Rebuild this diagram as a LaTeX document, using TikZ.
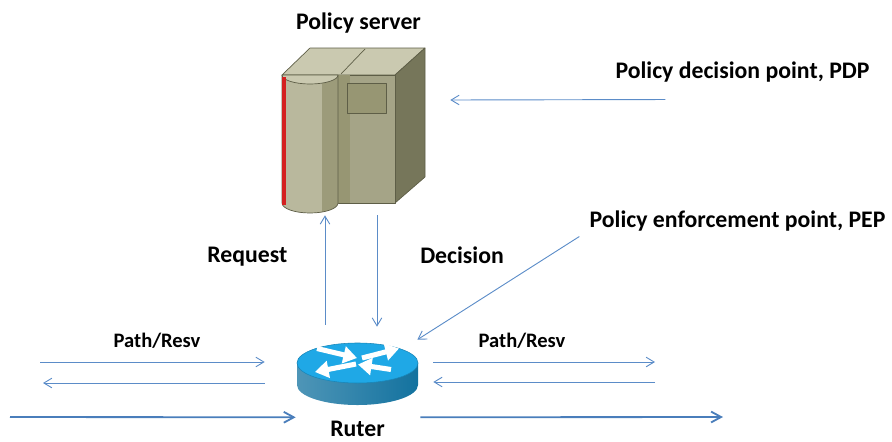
\documentclass[tikz,border=0pt]{standalone}
\usepackage{fontspec}
\setmainfont{Carlito}
\usetikzlibrary{positioning,arrows.meta,calc}
\definecolor{linkblue}{HTML}{5B8CC8}
\definecolor{flowblue}{HTML}{4A7EBB}
\definecolor{srvtop}{HTML}{CAC9B0}
\definecolor{srvfront}{HTML}{A5A487}
\definecolor{srvstrip}{HTML}{979673}
\definecolor{srvside}{HTML}{76765A}
\definecolor{srvcyl}{HTML}{B9B89D}
\definecolor{srvcylshade}{HTML}{9C9B7A}
\definecolor{srvedge}{HTML}{5E5E47}
\definecolor{srvred}{HTML}{D42020}
\definecolor{rtrtop}{HTML}{1FA8E6}
\definecolor{rtrside}{HTML}{13729F}

\begin{document}
\begin{tikzpicture}[x=0.025cm, y=-0.025cm, >={Straight Barb[length=0.2cm,width=0.24cm]},
  lbl/.style={font=\bfseries\fontsize{16.9}{18}\selectfont, inner sep=0pt},
  smalllbl/.style={font=\bfseries\fontsize{14.6}{16}\selectfont, inner sep=0pt},
  link/.style={draw=linkblue, line width=0.65pt},
  flow/.style={draw=flowblue, line width=1.3pt, -{Straight Barb[length=0.25cm,width=0.27cm]}}]
  \useasboundingbox (0,0) rectangle (892,441);

  % policy server
  \begin{scope}[draw=srvedge, line width=0.5pt, line join=round]
    \filldraw[fill=srvtop] (282,75) -- (310,48) -- (425,48) -- (395,75) -- cycle;
    \filldraw[fill=srvside] (395,75) -- (425,48) -- (425,177) -- (395,203) -- cycle;
    \filldraw[fill=srvfront] (338,75) rectangle (395,203);
    \fill[srvstrip] (338.3,75.3) rectangle (350,202.7);
    \filldraw[fill=srvstrip] (347,83) rectangle (386,113);
    \draw (365,49) -- (341,74);
    \begin{scope}
      \clip (282,75) -- (282,203) arc[start angle=180, end angle=0, x radius=28, y radius=10] -- (338,75) -- cycle;
      \fill[srvcyl] (270,60) rectangle (322,230);
      \fill[srvcylshade] (322,60) rectangle (340,230);
    \end{scope}
    \draw (282,75) -- (282,203) arc[start angle=180, end angle=0, x radius=28, y radius=10] -- (338,75);
    \filldraw[fill=srvtop] (282,75) arc[start angle=180, end angle=0, x radius=28, y radius=9] -- cycle;
    \fill[srvred] (282.3,77) rectangle (285.5,205);
  \end{scope}
  \node[inner sep=0pt, minimum width=3.575cm, minimum height=4.125cm] (server) at (353.5,130.5) {};

  % router
  \shade[left color=rtrside!75!white, right color=rtrside] (297,363) -- (297,385)
    arc[start angle=180, end angle=0, x radius=60.5, y radius=20] -- (418,363) -- cycle;
  \filldraw[fill=rtrtop, draw=rtrtop!80!black, line width=0.4pt] (357.5,363) ellipse[x radius=60.5, y radius=20];
  \begin{scope}[white, line width=3.6pt, -{Triangle[length=0.34cm,width=0.42cm]}]
    \draw (317,348.5) -- (357,358);
    \draw (362,358) -- (399,348.5);
    \draw (356,364) -- (315,372);
    \draw (391,369.5) -- (358,364.5);
  \end{scope}
  \node[inner sep=0pt, minimum width=3.025cm, minimum height=1.55cm] (router) at (357.5,374) {};

  \node[lbl, above=0.36cm of server, xshift=0.125cm] (srvname) {Policy server};
  \node[lbl, below=0.4cm of router] (rname) {Ruter};
  \node[lbl, anchor=base] (pdp) at (742.5,78) {Policy decision point, PDP};
  \node[lbl, anchor=base] (pep) at (737.5,227) {Policy enforcement point, PEP};
  \node[smalllbl, anchor=base] (pathW) at (157,347) {Path/Resv};
  \node[smalllbl, anchor=base] (pathE) at (522,347) {Path/Resv};

  \coordinate (inW) at (40,362);
  \coordinate (outW) at (43,383);
  \coordinate (dataW) at (10,417);
  \coordinate (outE) at (655,362);
  \coordinate (inE) at (655,382);
  \coordinate (dataE) at (723,417);

  \draw[link,->] ($(router.north)+(-32.5,-18)$) -- node[lbl, pos=0.62, left=0.93cm] (req) {Request} ($(server.south)+(-28.5,2)$);
  \draw[link,->] ($(server.south)+(23.5,2)$) -- node[lbl, pos=0.36, right=1.07cm] (dec) {Decision} ($(router.north)+(19.5,-16)$);
  \draw[link,->] ($(pep.south west)+(-10,5.5)$) -- ($(router.north east)+(-1,-3)$);
  \draw[link,->] ($(pdp.south west)+(50,17.5)$) -- ($(server.east)+(25,-30.5)$);

  \draw[link,->] (inW) -- ($(router.west)+(-32,-12)$);
  \draw[link,->] ($(router.west)+(-32,9)$) -- (outW);
  \draw[flow] (dataW) -- ($(router.south west)+(-1,12)$);
  \draw[link,->] ($(router.east)+(15,-12)$) -- (outE);
  \draw[link,->] (inE) -- ($(router.east)+(15,8)$);
  \draw[flow] ($(router.south east)+(2,12)$) -- (dataE);
\end{tikzpicture}
\end{document}
